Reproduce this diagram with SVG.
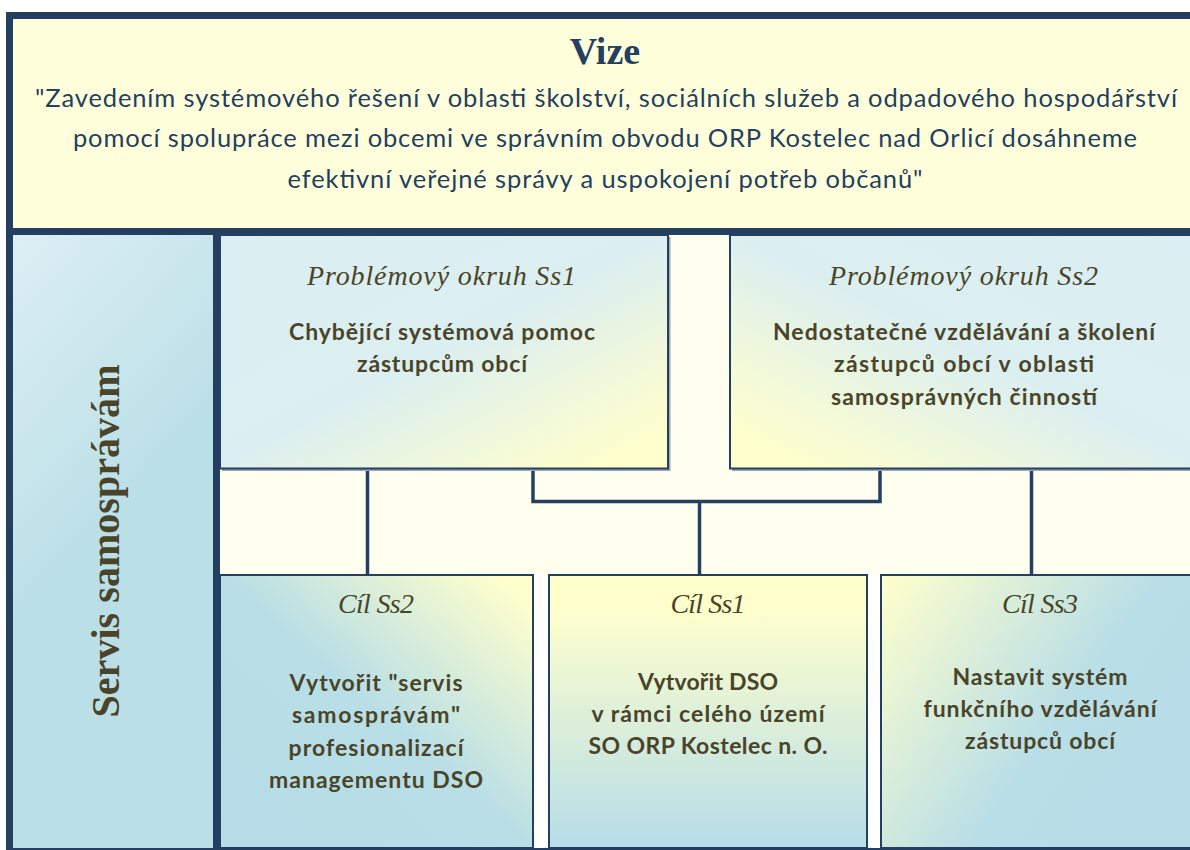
<svg xmlns="http://www.w3.org/2000/svg" width="1190" height="850" viewBox="0 0 1190 850">
<defs>
<style>
.navy{fill:#243F60}
.vize{font-family:"Liberation Serif",serif;font-weight:bold;font-size:38px;fill:#243F60;text-anchor:middle}
.quote{font-family:Lato,"Open Sans",sans-serif;font-size:25.5px;fill:#243F60;text-anchor:middle}
.side{font-family:"Liberation Serif",serif;font-weight:bold;font-size:40px;fill:#4A452A;text-anchor:middle}
.hd{font-family:"Liberation Serif",serif;font-style:italic;font-size:28px;fill:#4A452A;text-anchor:middle}
.bd{font-family:Lato,"Open Sans",sans-serif;font-weight:bold;font-size:23px;fill:#4A452A;text-anchor:middle}
.box{stroke:#243F60;stroke-width:2}
.shadow{fill:#9AA8B5}
.conn{stroke:#243F60;stroke-width:3.5;fill:none;stroke-linecap:square}
</style>
<linearGradient id="gL" gradientUnits="userSpaceOnUse" x1="13" y1="235" x2="213" y2="420">
<stop offset="0" stop-color="#DCEFF4"/><stop offset="1" stop-color="#BBDFE7"/>
</linearGradient>
<linearGradient id="gS1" x1="0" y1="0" x2="1" y2="1">
<stop offset="0" stop-color="#DAEEF3"/><stop offset="0.5" stop-color="#DCEFF0"/><stop offset="0.92" stop-color="#FFFFCC"/>
</linearGradient>
<linearGradient id="gS2" x1="1" y1="0" x2="0" y2="1">
<stop offset="0" stop-color="#DAEEF3"/><stop offset="0.5" stop-color="#DCEFF0"/><stop offset="0.92" stop-color="#FFFFCC"/>
</linearGradient>
<linearGradient id="gC2" x1="0" y1="1" x2="1" y2="0">
<stop offset="0" stop-color="#B6DDE8"/><stop offset="0.5" stop-color="#B8DEE6"/><stop offset="0.95" stop-color="#FFFFCC"/>
</linearGradient>
<linearGradient id="gC1" x1="0" y1="0" x2="0" y2="1">
<stop offset="0" stop-color="#FFFFCC"/><stop offset="0.12" stop-color="#FFFFCC"/><stop offset="1" stop-color="#B6DDE8"/>
</linearGradient>
<linearGradient id="gC3" x1="0" y1="0" x2="1" y2="0.6">
<stop offset="0" stop-color="#FFFFCC"/><stop offset="0.65" stop-color="#B8DEE7"/><stop offset="1" stop-color="#B6DDE8"/>
</linearGradient>
</defs>

<g id="frame">
<rect x="6" y="12" width="1200" height="850" class="navy"/>
<rect x="13" y="19" width="1190" height="209" fill="#FFFFDC"/>
<rect x="220" y="235" width="980" height="339" fill="#FFFFF0"/>
<rect x="220" y="574" width="980" height="274" fill="#FFFFFF"/>
</g>

<g id="vize">
<text class="vize" x="605" y="64">Vize</text>
<text class="quote" x="606" y="107" textLength="1142">"Zavedením systémového řešení v oblasti školství, sociálních služeb a odpadového hospodářství</text>
<text class="quote" x="605" y="147" textLength="1064">pomocí spolupráce mezi obcemi ve správním obvodu ORP Kostelec nad Orlicí dosáhneme</text>
<text class="quote" x="605" y="188" textLength="635">efektivní veřejné správy a uspokojení potřeb občanů"</text>
</g>

<g id="servis">
<rect x="13" y="235" width="200" height="613" fill="url(#gL)"/>
<text class="side" transform="translate(119,541) rotate(-90)" textLength="353">Servis samosprávám</text>
</g>

<g id="connectors">
<line class="conn" x1="367.5" y1="470" x2="367.5" y2="573"/>
<polyline class="conn" points="533,470 533,501.5 880,501.5 880,470"/>
<line class="conn" x1="699.5" y1="502" x2="699.5" y2="573"/>
<line class="conn" x1="1031.5" y1="470" x2="1031.5" y2="573"/>
</g>

<g id="ss1">
<rect class="shadow" x="222" y="237" width="448.5" height="234"/>
<rect class="box" x="220" y="235" width="448" height="233.5" fill="url(#gS1)"/>
<text class="hd" x="441.5" y="285" textLength="269">Problémový okruh Ss1</text>
<text class="bd" x="442" y="340" textLength="306">Chybějící systémová pomoc</text>
<text class="bd" x="442" y="372" textLength="170">zástupcům obcí</text>
</g>

<g id="ss2">
<rect class="shadow" x="732" y="237" width="470" height="234"/>
<rect class="box" x="730" y="235" width="470" height="233.5" fill="url(#gS2)"/>
<text class="hd" x="963.5" y="285" textLength="269">Problémový okruh Ss2</text>
<text class="bd" x="964" y="340" textLength="382">Nedostatečné vzdělávání a školení</text>
<text class="bd" x="964" y="372" textLength="260">zástupců obcí v oblasti</text>
<text class="bd" x="964" y="405" textLength="266">samosprávných činností</text>
</g>

<g id="cil-ss2">
<rect class="box" x="220" y="575" width="313" height="273" fill="url(#gC2)"/>
<text class="hd" x="376" y="613" textLength="76">Cíl Ss2</text>
<text class="bd" x="376" y="691" textLength="173">Vytvořit "servis</text>
<text class="bd" x="376" y="723" textLength="168">samosprávám"</text>
<text class="bd" x="376" y="756" textLength="175">profesionalizací</text>
<text class="bd" x="376" y="788" textLength="214">managementu DSO</text>
</g>

<g id="cil-ss1">
<rect class="box" x="549" y="575" width="318" height="273" fill="url(#gC1)"/>
<text class="hd" x="708" y="613" textLength="75">Cíl Ss1</text>
<text class="bd" x="708" y="690" textLength="140">Vytvořit DSO</text>
<text class="bd" x="708" y="722" textLength="233">v rámci celého území</text>
<text class="bd" x="708" y="754" textLength="239">SO ORP Kostelec n. O.</text>
</g>

<g id="cil-ss3">
<rect class="box" x="881" y="575" width="320" height="273" fill="url(#gC3)"/>
<text class="hd" x="1040" y="613" textLength="76">Cíl Ss3</text>
<text class="bd" x="1040" y="685" textLength="175">Nastavit systém</text>
<text class="bd" x="1040" y="717" textLength="233">funkčního vzdělávání</text>
<text class="bd" x="1040" y="749" textLength="150">zástupců obcí</text>
</g>
</svg>
